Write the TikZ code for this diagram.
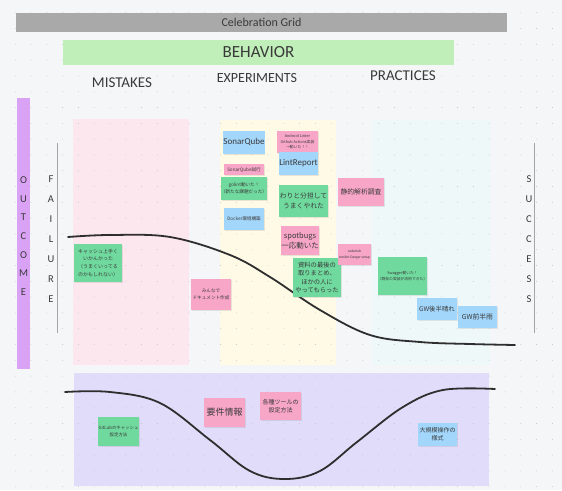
\documentclass[tikz,border=0pt]{standalone}
\usepackage{fontspec}
\setmainfont{Carlito}
\newfontfamily\cjk{Noto Sans CJK JP}
\usetikzlibrary{shadows}
\definecolor{bg}{HTML}{F5F6F7}
\definecolor{dotc}{HTML}{BFC3C8}
\definecolor{titlegray}{HTML}{A9A9A9}
\definecolor{behgreen}{HTML}{C1EFB9}
\definecolor{outpurple}{HTML}{D9A2F5}
\definecolor{mistpink}{HTML}{FDE7EF}
\definecolor{expyellow}{HTML}{FFFAE6}
\definecolor{praccyan}{HTML}{EEF8F9}
\definecolor{botpurple}{HTML}{E2DCFB}
\definecolor{nblue}{HTML}{A3D6FB}
\definecolor{npink}{HTML}{F8A6C8}
\definecolor{ngreen}{HTML}{70DA9E}
\definecolor{txt}{HTML}{3A3A3A}
\definecolor{curvec}{HTML}{2E2E2E}
\tikzset{
  note/.style={inner sep=0pt, align=center, text=txt,
    drop shadow={opacity=0.18, shadow xshift=0.6pt, shadow yshift=-1.2pt}},
  bnote/.style={note, fill=nblue},
  pnote/.style={note, fill=npink},
  gnote/.style={note, fill=ngreen},
  header/.style={text=txt, inner sep=0pt},
  vletters/.style={text=txt, align=center, inner sep=0pt},
  axisline/.style={draw=gray!70, line width=0.8pt},
  wave/.style={draw=curvec, line width=1.8pt, line cap=round}
}
\begin{document}
\begin{tikzpicture}[x=1pt,y=-1pt]
\useasboundingbox (0,0) rectangle (562,490);
\fill[bg] (0,0) rectangle (562,490);
% regions
\fill[mistpink] (73,119) rectangle (189,365);
\fill[expyellow] (220,120) rectangle (336,365);
\fill[praccyan] (372,120) rectangle (490,365);
\fill[botpurple] (74,373) rectangle (489,486);
% dot grid
\foreach \i in {0,...,35}{
  \foreach \j in {0,...,31}{
    \fill[dotc] (15.2+\i*15.8, 12.7+\j*15.8) circle[radius=0.45pt];
  }
}
% title bars
\node[fill=titlegray, minimum width=491pt, minimum height=19pt, inner sep=0pt, text=txt,
  font=\fontsize{12}{14}\selectfont] (title) at (261.5,22.5) {Celebration Grid};
\node[fill=behgreen, minimum width=391pt, minimum height=25pt, inner sep=0pt, text=txt,
  font=\fontsize{17}{19}\selectfont] (behavior) at (258.5,52.5) {BEHAVIOR};
\node[header, font=\fontsize{15}{17}\selectfont] (mistakes) at (122,83) {MISTAKES};
\node[header, font=\fontsize{14}{16}\selectfont] (experiments) at (257,78) {EXPERIMENTS};
\node[header, font=\fontsize{15}{17}\selectfont] (practices) at (403,76) {PRACTICES};
% outcome bar
\fill[outpurple] (17,98) rectangle (30,369);
\node[vletters, font=\fontsize{10.5}{18.7}\selectfont] (outcome) at (23.5,236) {O\\U\\T\\C\\O\\M\\E};
% failure / success
\coordinate (ftop) at (57,143);
\coordinate (fbot) at (57,333);
\draw[axisline] (ftop) -- (fbot);
\node[vletters, font=\fontsize{10.5}{20}\selectfont] (failure) at (51,239.5) {F\\A\\I\\L\\U\\R\\E};
\coordinate (stop) at (534,143);
\coordinate (sbot) at (534,333);
\draw[axisline] (stop) -- (sbot);
\node[vletters, font=\fontsize{10.5}{20}\selectfont] (success) at (529,239.5) {S\\U\\C\\C\\E\\S\\S};
% curves
\draw[wave] plot[smooth, tension=0.6] coordinates {(68,237) (110,235) (170,237) (230,255) (270,277) (320,310) (370,335) (420,342) (470,344) (515,345)};
\draw[wave] plot[smooth, tension=0.6] coordinates {(65,392) (110,392) (160,403) (210,440) (250,471) (285,479) (320,471) (357,442) (403,407) (443,390) (495,389)};
% experiments notes
\node[bnote, minimum width=40pt, minimum height=23pt, font=\fontsize{9}{10}\selectfont] (sonar) at (244,142) {SonarQube};
\node[pnote, minimum width=40pt, minimum height=11pt, font=\cjk\fontsize{4.6}{5}\selectfont] (sonart) at (244,169.5) {SonarQube試行};
\node[gnote, minimum width=40pt, minimum height=23pt, font=\cjk\fontsize{4.6}{6.5}\selectfont] (golint) at (244,188.5) {golint動いた！\\（新たな課題だった）};
\node[bnote, minimum width=40pt, minimum height=22pt, font=\cjk\fontsize{4.6}{6}\selectfont] (docker) at (244,219) {Docker環境構築};
\node[pnote, minimum width=41pt, minimum height=22pt, font=\cjk\fontsize{3.8}{5.4}\selectfont] (android) at (297.5,142) {Android Linter\\Github Actions実装\\→動いた！！};
\node[bnote, minimum width=39pt, minimum height=23pt, font=\fontsize{9}{10}\selectfont] (lint) at (298.5,163.5) {LintReport};
\node[gnote, minimum width=49pt, minimum height=32pt, font=\cjk\fontsize{6.8}{10}\selectfont] (warito) at (303.5,201) {わりと分担して\\うまくやれた};
\node[pnote, minimum width=38pt, minimum height=29pt, font=\cjk\fontsize{7.5}{10}\selectfont] (spot) at (300,240.5) {spotbugs\\一応動いた};
\node[gnote, minimum width=48pt, minimum height=39pt, font=\cjk\fontsize{6.3}{8.6}\selectfont] (shiryo) at (317,277.5) {資料の最後の\\取りまとめ、\\ほかの人に\\やってもらった};
\node[pnote, minimum width=46pt, minimum height=28pt, font=\cjk\fontsize{6.8}{8}\selectfont] (seiteki) at (361,192) {静的解析調査};
\node[pnote, minimum width=33pt, minimum height=21pt, font=\fontsize{3.6}{5.5}\selectfont] (codeclub) at (354.5,254.5) {codeclub\\textlint Danger setup};
% practices notes
\node[gnote, minimum width=49pt, minimum height=38pt, font=\cjk\fontsize{3.8}{6}\selectfont] (swagger) at (402.5,276) {Swagger動いた！\\（既存の実装が流用できた）};
\node[bnote, minimum width=40pt, minimum height=22pt, font=\cjk\fontsize{6.4}{8}\selectfont] (gwko) at (437,309) {GW後半晴れ};
\node[bnote, minimum width=39pt, minimum height=22pt, font=\cjk\fontsize{6.8}{8}\selectfont] (gwzen) at (477.5,317) {GW前半雨};
% mistakes notes
\node[gnote, minimum width=48pt, minimum height=38pt, font=\cjk\fontsize{5}{7.8}\selectfont] (cache) at (98,263) {キャッシュ上手く\\いかんかった\\（うまくいってる\\のかもしれない）};
\node[pnote, minimum width=40pt, minimum height=31pt, font=\cjk\fontsize{4.6}{7}\selectfont] (minna) at (211,294.5) {みんなで\\ドキュメント作成};
% bottom notes
\node[gnote, minimum width=41pt, minimum height=29pt, font=\cjk\fontsize{4.4}{6.5}\selectfont] (gitlab) at (118.5,431.5) {GitLabのキャッシュ\\設定方法};
\node[pnote, minimum width=41pt, minimum height=29pt, font=\cjk\fontsize{9}{10}\selectfont] (yoken) at (224.5,412.5) {要件情報};
\node[pnote, minimum width=41pt, minimum height=28pt, font=\cjk\fontsize{6}{8}\selectfont] (kakushu) at (280.5,406) {各種ツールの\\設定方法};
\node[bnote, minimum width=39pt, minimum height=23pt, font=\cjk\fontsize{6}{8}\selectfont] (daikibo) at (437.5,434.5) {大規模操作の\\様式};
\end{tikzpicture}
\end{document}
